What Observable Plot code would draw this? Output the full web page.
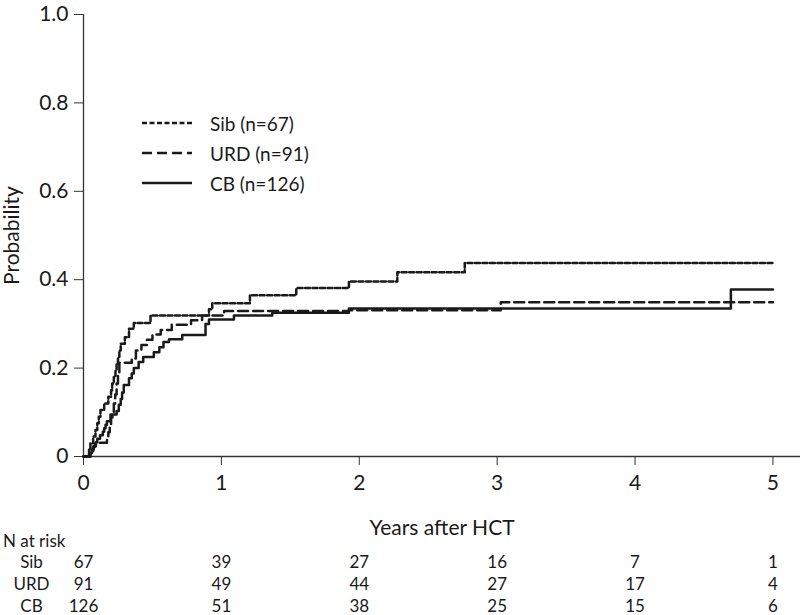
<!DOCTYPE html>
<html>
<head>
<meta charset="utf-8">
<script src="https://cdn.jsdelivr.net/npm/d3@7"></script>
<script src="https://cdn.jsdelivr.net/npm/@observablehq/plot@0.6"></script>
<style>
  html, body { margin: 0; padding: 0; background: #fff; }
  body { width: 800px; height: 615px; overflow: hidden; font-family: Lato, "Open Sans", sans-serif; color: #1a1a1a; }
  #wrap { position: relative; width: 800px; height: 615px; }
  #main { position: absolute; left: 0; top: 0; }
  #legend { position: absolute; left: 142px; top: 108px; font-size: 19px; }
  #legend .row { display: flex; align-items: center; height: 30px; }
  #legend svg { margin-right: 18px; }
  #risk-title { position: absolute; left: 3px; top: 530px; font-size: 17px; line-height: 22px; }
  #table { position: absolute; left: 0; top: 551px; }
</style>
</head>
<body>
<div id="wrap">
  <div id="main"></div>
  <div id="legend"></div>
  <div id="risk-title">N at risk</div>
  <div id="table"></div>
</div>
<script>
// ---- Data ----
const groups = ["Sib", "URD", "CB"];
const groupN = [67, 91, 126];

const sibT = [0, 0.04, 0.05, 0.07, 0.087, 0.10, 0.111, 0.123, 0.15, 0.18, 0.20, 0.208, 0.22, 0.232, 0.24, 0.25, 0.26, 0.27, 0.30, 0.33, 0.365, 0.486, 0.91, 0.934, 1.207, 1.543, 1.925, 2.276, 2.765, 5.0];
const sibP = [0, 0.015, 0.03, 0.045, 0.06, 0.075, 0.09, 0.105, 0.12, 0.135, 0.15, 0.165, 0.18, 0.195, 0.21, 0.225, 0.24, 0.255, 0.27, 0.289, 0.302, 0.319, 0.333, 0.347, 0.365, 0.381, 0.396, 0.417, 0.438, 0.438];

const urdT = [0, 0.05, 0.07, 0.085, 0.17, 0.18, 0.19, 0.20, 0.21, 0.22, 0.23, 0.24, 0.25, 0.26, 0.35, 0.38, 0.42, 0.46, 0.50, 0.56, 0.64, 0.78, 0.86, 1.02, 1.925, 3.026, 5.0];
const urdP = [0, 0.011, 0.022, 0.031, 0.044, 0.055, 0.066, 0.088, 0.10, 0.12, 0.14, 0.165, 0.19, 0.212, 0.222, 0.24, 0.252, 0.264, 0.276, 0.286, 0.298, 0.308, 0.319, 0.329, 0.331, 0.349, 0.349];

const cbT = [0, 0.05, 0.06, 0.075, 0.09, 0.10, 0.12, 0.14, 0.15, 0.16, 0.17, 0.196, 0.24, 0.256, 0.27, 0.28, 0.292, 0.33, 0.35, 0.365, 0.40, 0.433, 0.51, 0.55, 0.58, 0.62, 0.716, 0.885, 0.91, 1.091, 1.369, 1.925, 4.695, 5.0];
const cbP = [0, 0.008, 0.016, 0.024, 0.032, 0.040, 0.048, 0.056, 0.064, 0.072, 0.080, 0.095, 0.103, 0.117, 0.13, 0.145, 0.162, 0.177, 0.188, 0.20, 0.214, 0.225, 0.236, 0.247, 0.259, 0.265, 0.275, 0.30, 0.31, 0.319, 0.325, 0.335, 0.378, 0.378];

const yTicks = [0, 0.2, 0.4, 0.6, 0.8, 1.0];
const xTicks = [0, 1, 2, 3, 4, 5];
const riskTimes = [0, 1, 2, 3, 4, 5];
const riskSib = [67, 39, 27, 16, 7, 1];
const riskURD = [91, 49, 44, 27, 17, 4];
const riskCB = [126, 51, 38, 25, 15, 6];

// ---- Build tables ----
const toRows = (g, T, P) => T.map((t, i) => ({group: g, t, p: P[i]}));
const sib = toRows("Sib", sibT, sibP);
const urd = toRows("URD", urdT, urdP);
const cb = toRows("CB", cbT, cbP);

const dashes = {Sib: "5,2.5", URD: "10,5", CB: null};
const ink = "#1a1a1a";
const lineW = 2.5;

const main = Plot.plot({
  width: 800,
  height: 540,
  marginLeft: 83,
  marginRight: 0,
  marginTop: 14,
  marginBottom: 84,
  style: {fontFamily: "Lato, 'Open Sans', sans-serif", fontSize: "21px", color: ink, background: "white", overflow: "visible"},
  x: {domain: [0, 5.2]},
  y: {domain: [0, 1]},
  marks: [
    Plot.ruleX([0], {stroke: "#333", strokeWidth: 1.3}),
    Plot.ruleY([0], {stroke: "#333", strokeWidth: 1.3}),
    Plot.axisY({ticks: yTicks, tickFormat: d => d === 0 ? "0" : d.toFixed(1), tickSize: 9, tickPadding: 6, fontSize: 21,
      label: "Probability", labelAnchor: "center", labelArrow: "none", labelOffset: 79, stroke: "#333"}),
    Plot.axisX({ticks: xTicks, tickFormat: d => String(d), tickSize: 9, tickPadding: 10, fontSize: 21,
      label: "Years after HCT", labelAnchor: "center", labelArrow: "none", labelOffset: 78, stroke: "#333"}),
    Plot.line(sib, {x: "t", y: "p", curve: "step-after", stroke: ink, strokeWidth: lineW, strokeDasharray: dashes.Sib}),
    Plot.line(urd, {x: "t", y: "p", curve: "step-after", stroke: ink, strokeWidth: lineW, strokeDasharray: dashes.URD}),
    Plot.line(cb, {x: "t", y: "p", curve: "step-after", stroke: ink, strokeWidth: lineW})
  ]
});
document.getElementById("main").appendChild(main);

// ---- Legend ----
const legend = document.getElementById("legend");
groups.forEach((g, i) => {
  const row = document.createElement("div");
  row.className = "row";
  const dash = dashes[g] ? ` stroke-dasharray="${dashes[g]}"` : "";
  row.innerHTML = `<svg width="50" height="6"><line x1="0" x2="50" y1="3" y2="3" stroke="${ink}" stroke-width="${lineW}"${dash}/></svg><span>${g} (n=${groupN[i]})</span>`;
  legend.appendChild(row);
});

// ---- Number at risk table ----
const riskRows = [];
[riskSib, riskURD, riskCB].forEach((arr, gi) => arr.forEach((n, i) => riskRows.push({group: groups[gi], t: riskTimes[i], n})));

const table = Plot.plot({
  width: 800,
  height: 63,
  marginLeft: 83,
  marginRight: 0,
  marginTop: 11,
  marginBottom: 8,
  style: {fontFamily: "Lato, 'Open Sans', sans-serif", fontSize: "17px", color: ink, background: "transparent", overflow: "visible"},
  x: {domain: [0, 5.2], axis: null},
  y: {type: "point", domain: groups, padding: 0, axis: null},
  marks: [
    Plot.axisY({tickSize: 0, tickPadding: 52, textAnchor: "middle", fontSize: 17, label: null}),
    Plot.text(riskRows, {x: "t", y: "group", text: "n", fontSize: 17, fill: ink})
  ]
});
document.getElementById("table").appendChild(table);
</script>
</body>
</html>
